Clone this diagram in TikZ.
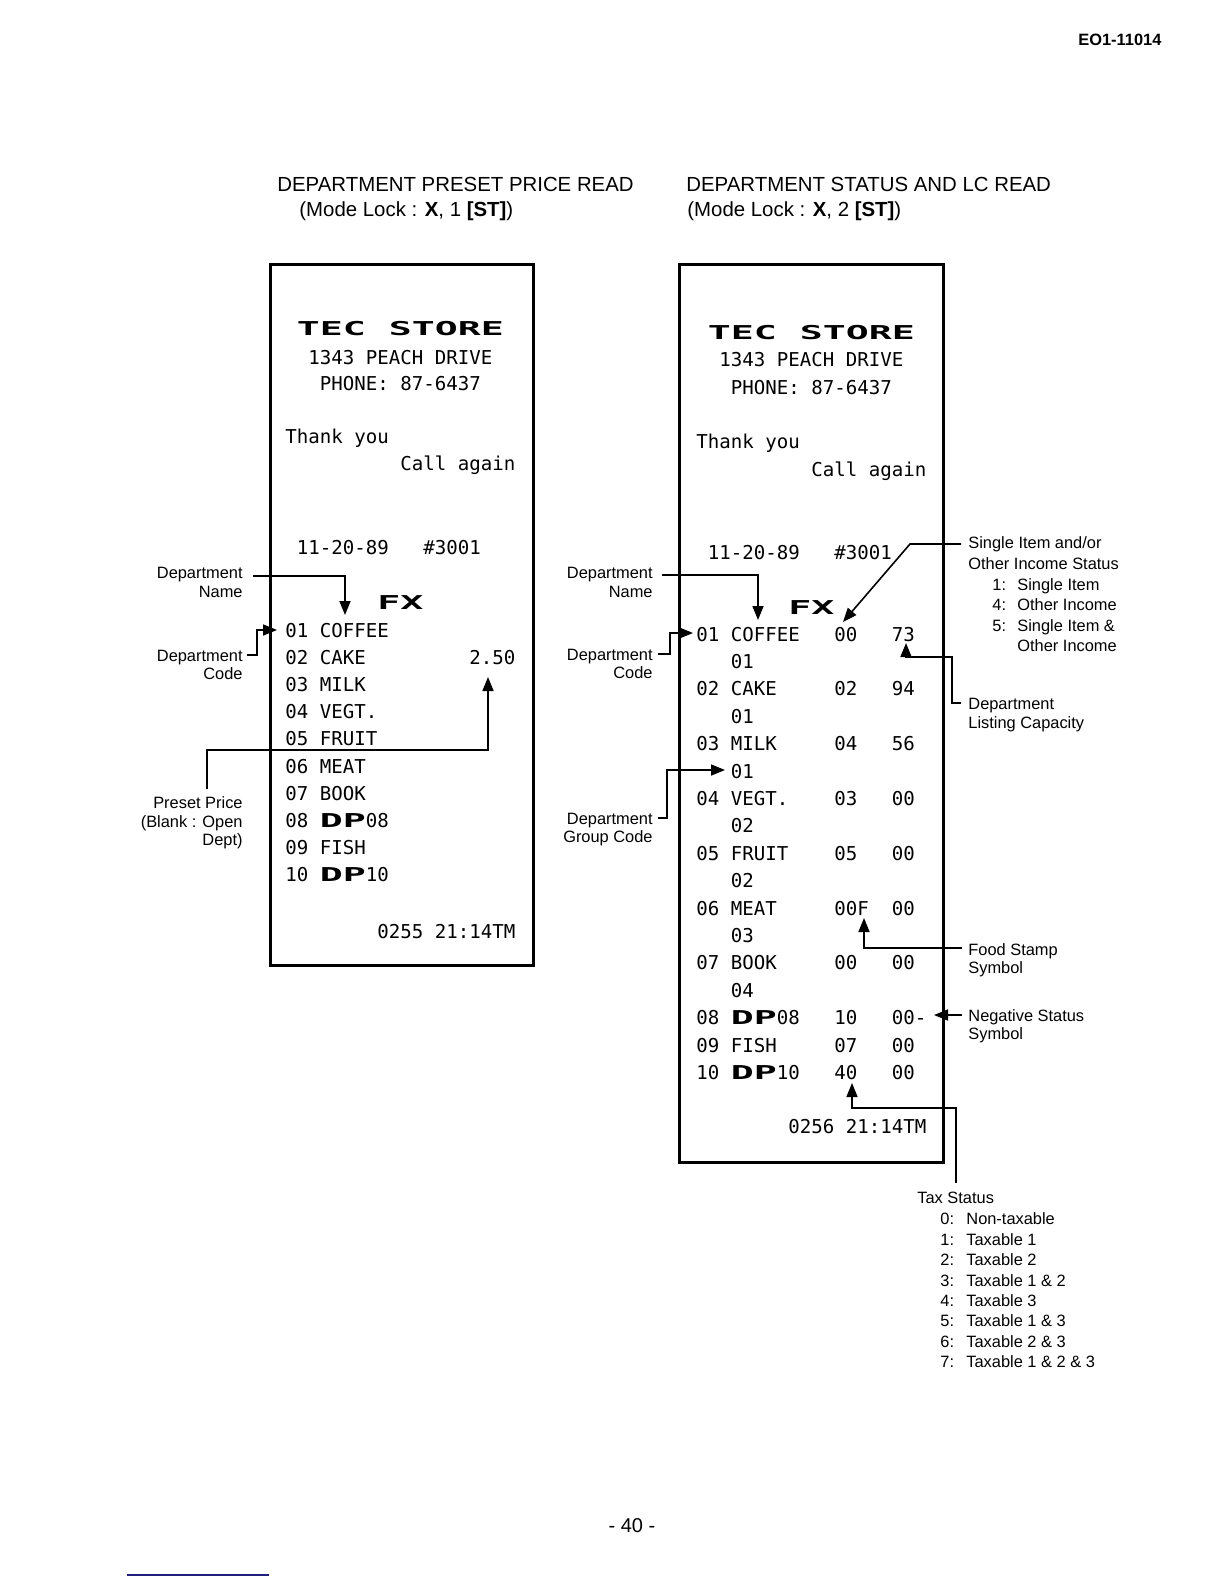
\documentclass[tikz,border=0pt]{standalone}
\usepackage{fontspec}
\setmainfont{Liberation Sans}
\newfontfamily\rcmono{DejaVu Sans Mono}
\usepackage{graphicx}
\usetikzlibrary{arrows.meta}
\newcommand\dbl[1]{\scalebox{2}[1]{\bfseries #1}}
\begin{document}
\begin{tikzpicture}[x=0.5pt,y=-0.5pt,
  rc/.style={font={\rcmono\fontsize{9.55}{11}\selectfont},anchor=west,inner sep=0pt,text height=7pt,text depth=0pt},
  lab/.style={font={\fontsize{8.2}{9.5}\selectfont},inner sep=0pt,text height=5.9pt,text depth=0pt},
  labR/.style={lab,anchor=east},
  labL/.style={lab,anchor=west},
  head/.style={font={\fontsize{10.2}{12}\selectfont},anchor=west,inner sep=0pt,text height=7.3pt,text depth=0pt},
  rbox/.style={draw,line width=1.6pt,inner sep=0pt,anchor=north west},
  conn/.style={line width=0.8pt},
  arr/.style={-{Triangle[length=7pt,width=5.5pt]}}]
\useasboundingbox (0,0) rectangle (1224,1584);
\fill[white] (0,0) rectangle (1224,1584);

% page header / footer
\node[font={\bfseries\fontsize{8.2}{10}\selectfont},anchor=west,inner sep=0pt] (docno) at (1078,40) {EO1-11014};
\node[font={\fontsize{10}{12}\selectfont},inner sep=0pt] (pageno) at (632,1526) {- 40 -};
\coordinate (bl1) at (127,1575);
\coordinate (bl2) at (269,1575);
\draw[line width=1pt,color={rgb,255:red,30;green,30;blue,125}] (bl1) -- (bl2);

% titles
\node[head] (titL1) at (277,184) {DEPARTMENT PRESET PRICE READ};
\node[head] (titL2) at (299,209) {(Mode Lock : \textbf{X}, 1 \textbf{[ST]})};
\node[head] (titR1) at (686,184) {DEPARTMENT STATUS AND LC READ};
\node[head] (titR2) at (687,209) {(Mode Lock : \textbf{X}, 2 \textbf{[ST]})};

% ---------------- left receipt ----------------
\node[rbox,minimum width=131.5pt,minimum height=350.5pt] (rcptL) at (269,263) {};
\node[rc] (lTec) at (296.5,328) {\dbl{TEC~STORE}};
\node[rc] (lAddr) at (308,357) {1343~PEACH~DRIVE};
\node[rc] (lPhone) at (319.5,383) {PHONE:~87-6437};
\node[rc] (lThank) at (285,436) {Thank~you};
\node[rc] (lCall) at (400,463) {Call~again};
\node[rc] (lDate) at (296.5,547) {11-20-89~~~\#3001};
\node[rc] (lFX) at (377,602) {\dbl{FX}};
\foreach \t [count=\i from 0] in {01~COFFEE,02~CAKE,03~MILK,04~VEGT.,05~FRUIT,06~MEAT,07~BOOK,08~\dbl{DP}08,09~FISH,10~\dbl{DP}10}
  \node[rc] (L\i) at (285,{630+27.2*\i}) {\t};
\node[rc] (lPrice) at (469,657.2) {2.50};
\node[rc] (lEnd) at (377,931) {0255~21:14TM};

% left labels
\node[labR] (lnA) at (243,573) {Department};
\node[labR] (lnB) at (243,592) {Name};
\node[labR] (lcA) at (243,656) {Department};
\node[labR] (lcB) at (243,674) {Code};
\node[labR] (lpA) at (243,803) {Preset Price};
\node[labR] (lpB) at (243,822) {(Blank : Open};
\node[labR] (lpC) at (243,840) {Dept)};

% left connectors
\coordinate (sLn) at (253,576);
\coordinate (tLn) at (345,615);
\draw[conn,arr] (sLn) -| (tLn);
\coordinate (sLc) at (247,655);
\coordinate (tLc) at (277,630);
\draw[conn,arr] (sLc) -- (257,655) |- (tLc);
\coordinate (sLp) at (207,789);
\coordinate (tLp) at (488,677);
\draw[conn,arr] (sLp) |- (488,750) -- (tLp);

% ---------------- right receipt ----------------
\node[rbox,minimum width=132pt,minimum height=449pt] (rcptR) at (678,263) {};
\node[rc] (rTec) at (707.5,332) {\dbl{TEC~STORE}};
\node[rc] (rAddr) at (719,359) {1343~PEACH~DRIVE};
\node[rc] (rPhone) at (730.5,387) {PHONE:~87-6437};
\node[rc] (rThank) at (696,441) {Thank~you};
\node[rc] (rCall) at (811,469) {Call~again};
\node[rc] (rDate) at (707.5,552) {11-20-89~~~\#3001};
\node[rc] (rFX) at (788,607) {\dbl{FX}};
\foreach \r/\t in {0/01~COFFEE~~~00~~~73,2/02~CAKE~~~~~02~~~94,4/03~MILK~~~~~04~~~56,6/04~VEGT.~~~~03~~~00,8/05~FRUIT~~~~05~~~00,10/06~MEAT~~~~~00F~~00,12/07~BOOK~~~~~00~~~00,14/08~\dbl{DP}08~~~10~~~00-,15/09~FISH~~~~~07~~~00,16/10~\dbl{DP}10~~~40~~~00}
  \node[rc] (R\r) at (696,{634+27.4*\r}) {\t};
\foreach \r/\t in {1/01,3/01,5/01,7/02,9/02,11/03,13/04}
  \node[rc] (R\r) at (730.5,{634+27.4*\r}) {\t};
\node[rc] (rEnd) at (788,1126) {0256~21:14TM};

% right labels (left side)
\node[labR] (rnA) at (653,573) {Department};
\node[labR] (rnB) at (653,592) {Name};
\node[labR] (rcA) at (653,655) {Department};
\node[labR] (rcB) at (653,673) {Code};
\node[labR] (rgA) at (653,819) {Department};
\node[labR] (rgB) at (653,837) {Group Code};

% right labels (right side)
\node[labL] (siA) at (968,543) {Single Item and/or};
\node[labL] (siB) at (968,564) {Other Income Status};
\node[labL] (siN1) at (992,585) {1:};
\node[labL] (siT1) at (1017,585) {Single Item};
\node[labL] (siN2) at (992,605) {4:};
\node[labL] (siT2) at (1017,605) {Other Income};
\node[labL] (siN3) at (992,626) {5:};
\node[labL] (siT3) at (1017,626) {Single Item \&};
\node[labL] (siT4) at (1017,646) {Other Income};
\node[labL] (lcapA) at (968,704) {Department};
\node[labL] (lcapB) at (968,723) {Listing Capacity};
\node[labL] (fsA) at (968,950) {Food Stamp};
\node[labL] (fsB) at (968,968) {Symbol};
\node[labL] (ngA) at (968,1016) {Negative Status};
\node[labL] (ngB) at (968,1034) {Symbol};
\node[labL] (txH) at (917,1198) {Tax Status};
\foreach \n/\t [count=\k from 0] in {0/Non-taxable,1/Taxable 1,2/Taxable 2,3/Taxable 1 \& 2,4/Taxable 3,5/Taxable 1 \& 3,6/Taxable 2 \& 3,7/Taxable 1 \& 2 \& 3}{
  \node[labL] (txN\k) at (940,{1219+20.4*\k}) {\n:};
  \node[labL] (txT\k) at (966,{1219+20.4*\k}) {\t};
}

% right connectors
\coordinate (sRn) at (662,575);
\coordinate (tRn) at (758,620);
\draw[conn,arr] (sRn) -| (tRn);
\coordinate (sRc) at (658,654);
\coordinate (tRc) at (693,633);
\draw[conn,arr] (sRc) -- (670,654) |- (tRc);
\coordinate (sRg) at (658,818);
\coordinate (tRg) at (725,770);
\draw[conn,arr] (sRg) -- (667,818) |- (tRg);
\coordinate (sSi) at (961,544);
\coordinate (tSi) at (843,622);
\draw[conn,arr] (sSi) -- (910,544) -- (tSi);
\coordinate (sLcap) at (961,703);
\coordinate (tLcap) at (906,643);
\draw[conn,arr] (sLcap) -- (952,703) |- (906,657) -- (tLcap);
\coordinate (sFs) at (962,948);
\coordinate (tFs) at (864,918);
\draw[conn,arr] (sFs) -| (tFs);
\coordinate (sNg) at (962,1015);
\coordinate (tNg) at (934,1015);
\draw[conn,arr] (sNg) -- (tNg);
\coordinate (sTx) at (956,1183);
\coordinate (tTx) at (852,1083);
\draw[conn,arr] (sTx) |- (852,1108) -- (tTx);
\end{tikzpicture}
\end{document}
